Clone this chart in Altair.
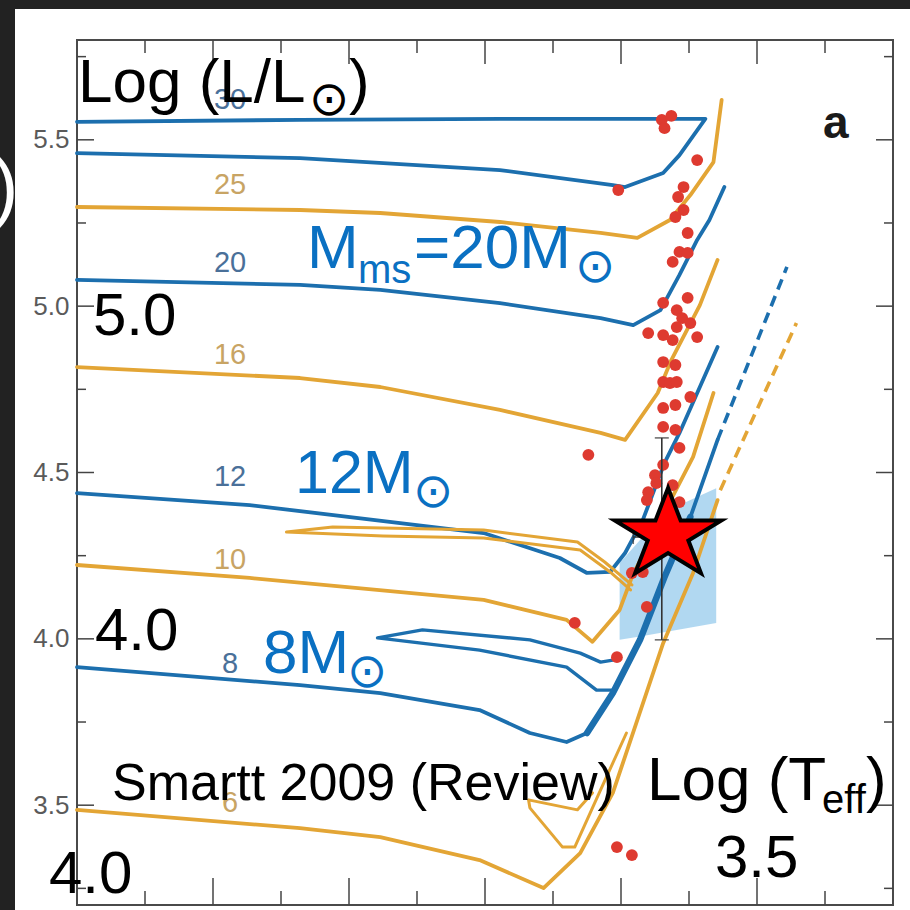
import altair as alt
import pandas as pd

# ---------------- data (log Teff, log L/Lsun) ----------------
T30 = [4.000, 3.836, 3.689, 3.606, 3.597, 3.569, 3.557, 3.538, 3.549, 3.689, 3.836, 4.000]
L30 = [5.460, 5.445, 5.409, 5.364, 5.358, 5.400, 5.454, 5.563, 5.563, 5.563, 5.560, 5.554]

T25 = [4.000, 3.836, 3.777, 3.689, 3.615, 3.588, 3.564, 3.549, 3.532, 3.526]
L25 = [5.298, 5.289, 5.280, 5.253, 5.220, 5.205, 5.259, 5.334, 5.433, 5.620]

T20 = [4.000, 3.836, 3.777, 3.689, 3.615, 3.591, 3.571, 3.557, 3.544, 3.535, 3.524]
L20 = [5.079, 5.064, 5.049, 5.009, 4.964, 4.943, 4.988, 5.094, 5.199, 5.259, 5.358]

T16 = [4.000, 3.836, 3.777, 3.689, 3.615, 3.597, 3.573, 3.563, 3.542, 3.529]
L16 = [4.817, 4.784, 4.757, 4.688, 4.619, 4.598, 4.739, 4.838, 5.003, 5.139]

T12 = [4.000, 3.873, 3.701, 3.645, 3.625, 3.608, 3.597, 3.584, 3.568, 3.557, 3.529]
L12 = [4.438, 4.402, 4.318, 4.243, 4.198, 4.201, 4.258, 4.357, 4.529, 4.619, 4.877]

T10 = [4.000, 3.873, 3.701, 3.640, 3.621, 3.601, 3.592, 3.571, 3.547, 3.532]
L10 = [4.222, 4.183, 4.117, 4.057, 3.991, 4.087, 4.186, 4.357, 4.547, 4.739]
T10_loop = [3.592, 3.612, 3.632, 3.701, 3.812, 3.846, 3.775, 3.701, 3.630, 3.608, 3.593]
L10_loop = [4.162, 4.231, 4.291, 4.327, 4.336, 4.321, 4.309, 4.303, 4.267, 4.201, 4.147]

T8 = [4.000, 3.836, 3.777, 3.704, 3.667, 3.640, 3.625, 3.606, 3.586, 3.568, 3.549, 3.529]
L8 = [3.915, 3.861, 3.837, 3.786, 3.717, 3.690, 3.717, 3.837, 3.997, 4.186, 4.366, 4.598]
T8_loop = [3.606, 3.615, 3.630, 3.667, 3.746, 3.779, 3.704, 3.640, 3.618, 3.607]
L8_loop = [3.936, 3.930, 3.957, 3.997, 4.027, 4.003, 3.966, 3.915, 3.846, 3.846]
T8_thick = [3.625, 3.606, 3.586, 3.568, 3.549]
L8_thick = [3.717, 3.837, 3.997, 4.186, 4.366]
T8_dash = [3.529, 3.478]
L8_dash = [4.598, 5.118]

T6 = [4.000, 3.836, 3.777, 3.704, 3.657, 3.630, 3.606, 3.569, 3.547, 3.529]
L6 = [3.486, 3.431, 3.404, 3.335, 3.251, 3.356, 3.537, 3.987, 4.198, 4.417]
T6_loop = [3.596, 3.615, 3.634, 3.643, 3.667, 3.668, 3.632, 3.621]
L6_loop = [3.717, 3.546, 3.374, 3.374, 3.492, 3.516, 3.486, 3.537]
T6_dash = [3.527, 3.471]
L6_dash = [4.447, 4.949]

# red supergiants
RSG_T = [3.570, 3.563, 3.568, 3.544, 3.602, 3.554, 3.558, 3.554, 3.560, 3.551, 3.557, 3.551,
         3.562, 3.551, 3.569, 3.559, 3.555, 3.549, 3.580, 3.569, 3.559, 3.544, 3.562, 3.569,
         3.560, 3.569, 3.564, 3.559, 3.549, 3.569, 3.560, 3.569, 3.560, 3.557, 3.624, 3.569,
         3.575, 3.574, 3.580, 3.581, 3.562, 3.557, 3.592, 3.584, 3.581, 3.634, 3.603, 3.603, 3.592]
RSG_L = [5.560, 5.572, 5.535, 5.439, 5.349, 5.358, 5.328, 5.289, 5.268, 5.220, 5.163, 5.160,
         5.133, 5.025, 5.010, 4.988, 4.964, 4.949, 4.919, 4.913, 4.937, 4.907, 4.898, 4.832,
         4.823, 4.772, 4.769, 4.772, 4.727, 4.694, 4.703, 4.637, 4.628, 4.574, 4.553, 4.523,
         4.492, 4.468, 4.441, 4.417, 4.462, 4.411, 4.198, 4.201, 4.096, 4.048, 3.945, 3.374, 3.350]

# shaded progenitor box
BOX_T = [3.601, 3.586, 3.557, 3.530]
BOX_TOP = [4.228, 4.297, 4.402, 4.453]
BOX_BOT = [3.997, 4.007, 4.028, 4.048]

# progenitor (star) and error bars
STAR_T = [3.5654]
STAR_L = [4.312]
ERR_T = [3.570]
ERR_L = [4.306]
ERR_L_RANGE = [3.997, 4.604]
ERR_T_RANGE = [3.591, 3.549]

# mass labels
MASS_TXT = ["30", "25", "20", "16", "12", "10", "8", "6"]
MASS_L = [5.620, 5.364, 5.130, 4.853, 4.486, 4.237, 3.924, 3.507]
MASS_T = [3.8875] * 8

# axis ticks
L_MAJOR = [3.5, 4.0, 4.5, 5.0, 5.5]
L_MINOR = [3.25, 3.75, 4.25, 4.75, 5.25, 5.75]
T_MAJOR = [3.5, 3.6, 3.7, 3.8, 3.9]
T_MINOR = [3.45, 3.55, 3.65, 3.75, 3.85, 3.95]

# ---------------- style ----------------
BLUE = "#1c6fae"
ORANGE = "#e3a535"
LBL_BLUE = "#4a7099"
LBL_TAN = "#c8a464"
TXT_BLUE = "#0a70c2"
FONT = "Liberation Sans, Arial, sans-serif"
SYM = "DejaVu Sans"
W, H = 816, 865

xs = alt.Scale(domain=[3.4, 4.0], reverse=True, nice=False, zero=False)
ys = alt.Scale(domain=[3.2, 5.8], nice=False, zero=False)
YAX = alt.Axis(values=L_MAJOR, format=".1f", ticks=False, domain=False, grid=False,
               labelColor="#5a5a5a", labelFontSize=26, labelFont=FONT,
               labelPadding=8, title=None)


def X(f):
    return alt.X(f, type="quantitative", scale=xs, axis=None)


def Y(f):
    return alt.Y(f, type="quantitative", scale=ys, axis=YAX)


one = pd.DataFrame({"k": [0]})


def track(T, L, color, width=3.8, dash=None):
    df = pd.DataFrame({"T": T, "L": L, "i": list(range(len(T)))})
    kw = dict(color=color, strokeWidth=width, strokeJoin="round", strokeCap="round")
    if dash:
        kw["strokeDash"] = dash
        kw["strokeCap"] = "butt"
    return alt.Chart(df).mark_line(**kw).encode(x=X("T"), y=Y("L"), order="i:Q")


def text(t, x, y, size, color="black", font=FONT, baseline="alphabetic", align="left", weight="normal"):
    return alt.Chart(one).mark_text(text=t, align=align, baseline=baseline, fontSize=size,
                                    font=font, color=color, fontWeight=weight).encode(
        x=alt.value(x), y=alt.value(y))


def rect(x, x2, y, y2, color):
    return alt.Chart(one).mark_rect(color=color).encode(
        x=alt.value(x), x2=alt.value(x2), y=alt.value(y), y2=alt.value(y2))


def lticks(vals, x0, x1):
    return alt.Chart(pd.DataFrame({"L": vals})).mark_rule(color="#444", strokeWidth=1.5).encode(
        y=Y("L"), x=alt.value(x0), x2=alt.value(x1))


def tticks(vals, y0, y1):
    return alt.Chart(pd.DataFrame({"T": vals})).mark_rule(color="#444", strokeWidth=1.5).encode(
        x=X("T"), y=alt.value(y0), y2=alt.value(y1))


layers = []
# dark slide border
layers.append(rect(-77, -62, -40, 870, "#222222"))
layers.append(rect(-77, 833, -40, -31, "#222222"))
layers.append(text(")", -84, 172, 76, color="white"))

# shaded box
box = pd.DataFrame({"T": BOX_T, "Lt": BOX_TOP, "Lb": BOX_BOT})
layers.append(alt.Chart(box).mark_area(color="#a9d4ef", opacity=0.9).encode(
    x=X("T"), y=Y("Lt"), y2="Lb:Q"))

# tracks
layers += [
    track(T30, L30, BLUE), track(T25, L25, ORANGE), track(T20, L20, BLUE),
    track(T16, L16, ORANGE), track(T12, L12, BLUE),
    track(T10_loop, L10_loop, ORANGE, 3.0), track(T10, L10, ORANGE),
    track(T8_loop, L8_loop, BLUE, 3.4), track(T8, L8, BLUE), track(T8_thick, L8_thick, BLUE, 6.5),
    track(T6_loop, L6_loop, ORANGE, 3.0), track(T6, L6, ORANGE),
    track(T8_dash, L8_dash, BLUE, 3.6, [11, 7]), track(T6_dash, L6_dash, ORANGE, 3.6, [11, 7]),
]

# RSGs
rsg = pd.DataFrame({"T": RSG_T, "L": RSG_L})
layers.append(alt.Chart(rsg).mark_circle(size=140, color="#de3a30", opacity=1).encode(
    x=X("T"), y=Y("L")))

# error bars
eb = pd.DataFrame({"T": ERR_T, "L": ERR_L, "L1": [ERR_L_RANGE[0]], "L2": [ERR_L_RANGE[1]],
                   "T1": [ERR_T_RANGE[0]], "T2": [ERR_T_RANGE[1]]})
layers.append(alt.Chart(eb).mark_rule(color="#333", strokeWidth=1.6).encode(
    x=X("T"), y=Y("L1"), y2="L2:Q"))
layers.append(alt.Chart(eb).mark_rule(color="#333", strokeWidth=1.6).encode(
    x=X("T1"), x2="T2:Q", y=Y("L")))
layers.append(alt.Chart(eb).mark_tick(color="#333", orient="horizontal", size=14, thickness=1.6).encode(
    x=X("T"), y=Y("L1")))
layers.append(alt.Chart(eb).mark_tick(color="#333", orient="horizontal", size=14, thickness=1.6).encode(
    x=X("T"), y=Y("L2")))
layers.append(alt.Chart(eb).mark_tick(color="#333", orient="vertical", size=14, thickness=1.6).encode(
    x=X("T1"), y=Y("L")))

# star
STAR_PATH = ("M0,-0.84 L0.2245,-0.2596 L0.9511,-0.2596 L0.3633,0.0991 L0.5878,0.6796 "
             "L0,0.3209 L-0.5878,0.6796 L-0.3633,0.0991 L-0.9511,-0.2596 L-0.2245,-0.2596 Z")
star = pd.DataFrame({"T": STAR_T, "L": STAR_L})
layers.append(alt.Chart(star).mark_point(shape=STAR_PATH, size=12544, filled=True, fill="#ff0000",
                                         stroke="black", strokeWidth=4, opacity=1).encode(
    x=X("T"), y=Y("L")))

# inward ticks
layers += [
    lticks(L_MAJOR, 0, 17), lticks(L_MINOR, 0, 9),
    lticks(L_MAJOR, W, W - 17), lticks(L_MINOR, W, W - 9),
    tticks(T_MAJOR, H, H - 27), tticks(T_MINOR, H, H - 14),
    tticks(T_MAJOR, 0, 24), tticks(T_MINOR, 0, 13),
]

# mass labels
ml = pd.DataFrame({"T": MASS_T, "L": MASS_L, "t": MASS_TXT,
                   "c": [LBL_BLUE, LBL_TAN] * 4})
layers.append(alt.Chart(ml).mark_text(fontSize=29, font=FONT, align="center", baseline="middle").encode(
    x=X("T"), y=Y("L"), text="t:N", color=alt.Color("c:N", scale=None)))

# overlaid slide annotations
layers += [
    text("Log (L/L", 1, 62, 62),
    text("\u2299", 252, 61, 48, font=SYM, align="center", baseline="middle"),
    text(")", 272, 62, 62),
    text("a", 746, 98, 46, color="#1a1a1a", weight="bold"),
    text("M", 230, 228, 62, color=TXT_BLUE),
    text("ms", 281, 243, 40, color=TXT_BLUE),
    text("=20M", 337, 228, 62, color=TXT_BLUE),
    text("\u2299", 518, 228, 48, color=TXT_BLUE, font=SYM, align="center", baseline="middle"),
    text("5.0", 16, 295, 60),
    text("12M", 218, 453, 61, color=TXT_BLUE),
    text("\u2299", 356, 453, 48, color=TXT_BLUE, font=SYM, align="center", baseline="middle"),
    text("4.0", 18, 610, 60),
    text("8M", 186, 633, 62, color=TXT_BLUE),
    text("\u2299", 290, 633, 48, color=TXT_BLUE, font=SYM, align="center", baseline="middle"),
    text("Smartt 2009 (Review)", 35, 760, 52),
    text("Log (T", 570, 760, 62),
    text("eff", 745, 773, 40),
    text(")", 789, 760, 62),
    text("3.5", 638, 837, 60),
    text("4.0", -28, 853, 60),
]

chart = alt.layer(*layers).properties(
    width=W, height=H,
    padding={"left": 77, "top": 40, "right": 17, "bottom": 5},
    autosize=alt.AutoSizeParams(type="none"),
    background="white",
).configure_view(stroke="#4a4a4a", strokeWidth=2)

chart.save("out.html", embed_options={"renderer": "svg", "actions": False})
